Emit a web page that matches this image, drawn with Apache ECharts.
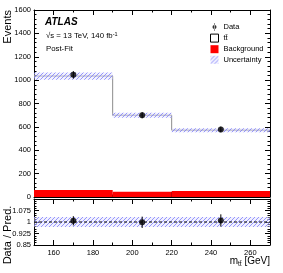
<!DOCTYPE html>
<html><head><meta charset="utf-8">
<script src="https://cdn.jsdelivr.net/npm/echarts@6/dist/echarts.min.js"></script>
<style>html,body{margin:0;padding:0;background:#fff}#c{width:283px;height:273px}</style>
</head><body><div id="c"></div>
<script>
// ---- data ----
const binEdges = [150, 190, 220, 270];
const background = [60, 45, 52];
const ttbar = [975, 655, 520];
const uncRel = [0.03, 0.03, 0.03];
const dataX = [170, 205, 245];
const dataY = [1045, 700, 578];
const dataErr = [32, 26, 24];
const ratioY = [1.008, 0.998, 1.01];
const ratioErr = [0.03, 0.037, 0.04];
const ratioUnc = [0.033, 0.033, 0.033];

const FONT = 'Liberation Sans, Arial, sans-serif';

function hatch() {
  const c = document.createElement('canvas');
  c.width = 4; c.height = 4;
  const g = c.getContext('2d');
  g.fillStyle = 'rgba(225,225,255,0.45)';
  g.fillRect(0, 0, 4, 4);
  g.strokeStyle = 'rgba(120,120,250,0.75)';
  g.lineWidth = 1;
  g.beginPath();
  g.moveTo(-1, 5); g.lineTo(5, -1);
  g.moveTo(-1, 1); g.lineTo(1, -1);
  g.moveTo(3, 5); g.lineTo(5, 3);
  g.stroke();
  return c;
}
const hatchFill = { image: hatch(), repeat: 'repeat' };

const total = background.map((b, i) => b + ttbar[i]);
const bgRects = background.map((b, i) => [binEdges[i], binEdges[i + 1], 0, b]);
const uncRects = total.map((t, i) => [binEdges[i], binEdges[i + 1], t * (1 - uncRel[i]), t * (1 + uncRel[i])]);
const ratioRects = ratioUnc.map((u, i) => [binEdges[i], binEdges[i + 1], 1 - u, 1 + u]);
const outline = total.map((t, i) => [binEdges[i], t]).concat([[binEdges[binEdges.length - 1], total[total.length - 1]]]);
const dataPts = dataX.map((x, i) => [x, dataY[i], dataErr[i]]);
const ratioPts = dataX.map((x, i) => [x, ratioY[i], ratioErr[i]]);

function rectItem(fill) {
  return function (params, api) {
    const p0 = api.coord([api.value(0), api.value(3)]);
    const p1 = api.coord([api.value(1), api.value(2)]);
    return { type: 'rect', shape: { x: p0[0], y: p0[1], width: p1[0] - p0[0], height: p1[1] - p0[1] },
      style: { fill: fill } };
  };
}
function errItem(params, api) {
  const x = api.value(0), y = api.value(1), e = api.value(2);
  const a = api.coord([x, y - e]), b = api.coord([x, y + e]);
  return { type: 'line', shape: { x1: a[0], y1: a[1], x2: b[0], y2: b[1] }, style: { stroke: '#000', lineWidth: 1 } };
}

const tickCommon = { inside: true, length: 5, lineStyle: { color: '#000', width: 1 } };
const minorCommon = { show: true, length: 2.5, lineStyle: { color: '#000', width: 1 } };
const lineCommon = { show: true, onZero: false, lineStyle: { color: '#000', width: 1 } };
const lbl = { fontFamily: FONT, fontSize: 7.5, color: '#000' };
const plain = v => String(+v.toFixed(3));

function xAx(grid, pos, showLabel) {
  return { type: 'value', gridIndex: grid, position: pos, min: 150, max: 270, splitNumber: 6,
    axisLine: lineCommon, axisTick: Object.assign({}, tickCommon),
    minorTick: Object.assign({ splitNumber: 2 }, minorCommon),
    splitLine: { show: false },
    axisLabel: showLabel ? Object.assign({ show: true, margin: 4, showMinLabel: false, showMaxLabel: false, formatter: plain }, lbl) : { show: false } };
}
function yAx(grid, pos, cfg, showLabel) {
  return Object.assign({ type: 'value', gridIndex: grid, position: pos,
    axisLine: lineCommon, axisTick: Object.assign({}, tickCommon),
    splitLine: { show: false },
    axisLabel: showLabel ? Object.assign({ show: true, margin: 3, formatter: plain }, lbl, cfg.label || {}) : { show: false } }, cfg.base);
}

const mainY = { base: { min: 0, max: 1600, interval: 200, minorTick: Object.assign({ splitNumber: 5 }, minorCommon) } };
const ratioYc = { base: { min: 0.85, max: 1.15, interval: 0.075, minorTick: Object.assign({ splitNumber: 5 }, minorCommon) },
  label: { showMaxLabel: false } };

const chart = echarts.init(document.getElementById('c'), null, { renderer: 'canvas' });
chart.setOption({
  animation: false,
  backgroundColor: '#fff',
  grid: [
    { left: 34, right: 13, top: 10, bottom: 76 },
    { left: 34, right: 13, top: 199, bottom: 28 }
  ],
  xAxis: [xAx(0, 'bottom', false), xAx(0, 'top', false), xAx(1, 'bottom', true), xAx(1, 'top', false)],
  yAxis: [yAx(0, 'left', mainY, true), yAx(0, 'right', mainY, false), yAx(1, 'left', ratioYc, true), yAx(1, 'right', ratioYc, false)],
  legend: {
    orient: 'vertical', left: 205, top: 18, itemWidth: 8, itemHeight: 8, itemGap: 2.6,
    textStyle: { fontFamily: FONT, fontSize: 7.5, color: '#000' },
    selectedMode: false,
    data: [
      { name: 'Data', icon: 'path://M4.2,0H4.8V9H4.2Z M4.5,2.2A2.3,2.3 0 1,0 4.5,6.8A2.3,2.3 0 1,0 4.5,2.2Z', itemStyle: { color: '#000' } },
      { name: 'tt\u0304', icon: 'rect', itemStyle: { color: '#fff', borderColor: '#000', borderWidth: 1 } },
      { name: 'Background', icon: 'rect', itemStyle: { color: '#ff0000' } },
      { name: 'Uncertainty', icon: 'rect', itemStyle: { color: hatchFill } }
    ]
  },
  series: [
    { name: 'Background', type: 'custom', xAxisIndex: 0, yAxisIndex: 0, data: bgRects,
      encode: { x: [0, 1], y: [2, 3] }, renderItem: rectItem('#ff0000'), itemStyle: { color: '#ff0000' }, z: 2 },
    { name: 'tt\u0304', type: 'line', xAxisIndex: 0, yAxisIndex: 0, data: outline, step: 'end', symbol: 'none',
      lineStyle: { color: '#8c8c8c', width: 1 }, itemStyle: { color: '#fff' }, z: 3 },
    { name: 'Uncertainty', type: 'custom', xAxisIndex: 0, yAxisIndex: 0, data: uncRects,
      encode: { x: [0, 1], y: [2, 3] }, renderItem: rectItem(hatchFill), z: 4 },
    { name: 'DataErr', type: 'custom', xAxisIndex: 0, yAxisIndex: 0, data: dataPts,
      encode: { x: 0, y: 1 }, renderItem: errItem, z: 5 },
    { name: 'Data', type: 'scatter', xAxisIndex: 0, yAxisIndex: 0, data: dataPts.map(p => [p[0], p[1]]),
      symbol: 'circle', symbolSize: 6, itemStyle: { color: '#000' }, z: 6 },
    // ratio panel
    { name: 'RatioUnc', type: 'custom', xAxisIndex: 2, yAxisIndex: 2, data: ratioRects,
      encode: { x: [0, 1], y: [2, 3] }, renderItem: rectItem(hatchFill), z: 2 },
    { name: 'RatioOne', type: 'line', xAxisIndex: 2, yAxisIndex: 2, data: [[150, 1], [270, 1]], symbol: 'none',
      lineStyle: { color: '#000', width: 1, type: [3, 2] }, z: 3 },
    { name: 'RatioErr', type: 'custom', xAxisIndex: 2, yAxisIndex: 2, data: ratioPts,
      encode: { x: 0, y: 1 }, renderItem: errItem, z: 5 },
    { name: 'RatioData', type: 'scatter', xAxisIndex: 2, yAxisIndex: 2, data: ratioPts.map(p => [p[0], p[1]]),
      symbol: 'circle', symbolSize: 6, itemStyle: { color: '#000' }, z: 6 }
  ],
  graphic: [
    { type: 'text', left: 45, top: 17, style: { text: 'ATLAS', fontFamily: FONT, fontSize: 10, fontWeight: 'bold', fontStyle: 'italic', fill: '#000' } },
    { type: 'text', left: 46, top: 31, style: { text: '\u221As = 13 TeV, 140 fb{sup|-1}', fontFamily: FONT, fontSize: 7.8, fill: '#000',
      rich: { sup: { fontSize: 5.5, verticalAlign: 'top', padding: [0, 0, 4, 0], fontFamily: FONT } } } },
    { type: 'text', left: 46, top: 45, style: { text: 'Post-Fit', fontFamily: FONT, fontSize: 7.8, fill: '#000' } },
    { type: 'text', x: 8, y: 10, rotation: Math.PI / 2, style: { text: 'Events', fontFamily: FONT, fontSize: 11, fill: '#000', align: 'right', verticalAlign: 'middle' } },
    { type: 'text', x: 8, y: 235, rotation: Math.PI / 2, style: { text: 'Data / Pred.', fontFamily: FONT, fontSize: 11, fill: '#000', align: 'center', verticalAlign: 'middle' } },
    { type: 'text', right: 13, top: 256, style: { text: 'm{sub|tt\u0304} [GeV]', fontFamily: FONT, fontSize: 10, fill: '#000',
      rich: { sub: { fontSize: 6.5, fontFamily: FONT, padding: [6, 0, 0, 0] } } } }
  ]
});
</script></body></html>
